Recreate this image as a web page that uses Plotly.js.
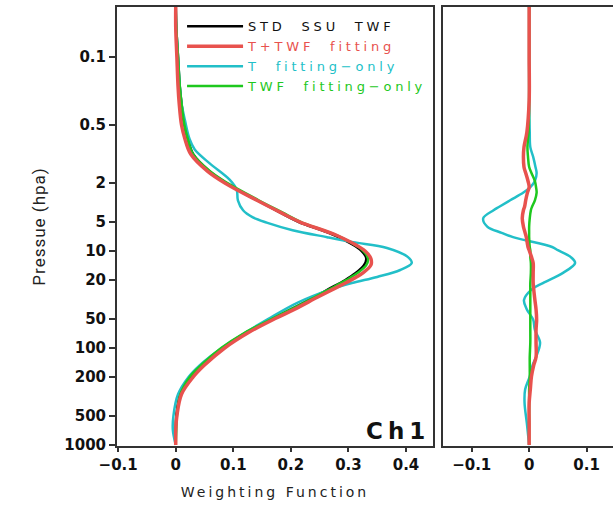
<!DOCTYPE html>
<html>
<head>
<meta charset="utf-8">
<script src="https://cdn.plot.ly/plotly-3.0.1.min.js"></script>
<style>
html,body{margin:0;padding:0;background:#fff;}
#chart{width:613px;height:506px;}
.xtitle{letter-spacing:3px;}
.ytitle{letter-spacing:1px;}
.legendtext{letter-spacing:3.8px;}
.annotation-text{letter-spacing:5px;}
</style>
</head>
<body>
<div id="chart"></div>
<script>
// ---- Left panel: weighting functions ----
var pLeft = [0.03, 0.05, 0.1, 0.2, 0.3, 0.5, 0.7, 1, 1.5, 2, 3, 4, 5, 7, 10, 12, 14, 17, 20, 25, 30, 40, 50, 70, 100, 150, 200, 300, 500, 700, 1000];
var stdTWF   = [0, 0.001, 0.004, 0.007, 0.010, 0.015, 0.021, 0.030, 0.058, 0.088, 0.141, 0.181, 0.213, 0.278, 0.323, 0.331, 0.327, 0.312, 0.294, 0.264, 0.240, 0.200, 0.168, 0.121, 0.081, 0.046, 0.026, 0.008, 0.001, 0, 0];
var tTwfFit  = [0, 0, 0.002, 0.004, 0.006, 0.010, 0.016, 0.026, 0.055, 0.086, 0.141, 0.182, 0.215, 0.282, 0.329, 0.339, 0.339, 0.324, 0.304, 0.272, 0.246, 0.206, 0.172, 0.125, 0.085, 0.050, 0.030, 0.010, 0.002, 0, 0];
var twfOnly  = [0, 0.001, 0.004, 0.007, 0.010, 0.015, 0.021, 0.030, 0.059, 0.090, 0.144, 0.185, 0.217, 0.282, 0.326, 0.334, 0.331, 0.315, 0.296, 0.266, 0.241, 0.200, 0.167, 0.119, 0.079, 0.044, 0.024, 0.008, 0.002, 0.001, 0];
var pCyan = [0.03, 0.05, 0.1, 0.2, 0.3, 0.45, 0.7, 0.9, 1.25, 1.85, 2.35, 3, 3.8, 4.5, 5.1, 6.1, 7.2, 8.1, 9.3, 11.5, 13.3, 15.7, 18.5, 21.4, 25, 34, 50, 70, 100, 150, 200, 300, 500, 700, 1000];
var tOnly    = [0, 0.001, 0.004, 0.007, 0.010, 0.016, 0.024, 0.033, 0.059, 0.094, 0.106, 0.108, 0.117, 0.134, 0.158, 0.203, 0.263, 0.308, 0.367, 0.403, 0.410, 0.390, 0.350, 0.306, 0.268, 0.212, 0.161, 0.120, 0.080, 0.042, 0.022, 0.004, -0.004, -0.005, 0];

// ---- Right panel: differences ----
var pRight = [0.03, 0.1, 0.28, 0.6, 0.85, 1.07, 1.36, 1.57, 1.9, 2.2, 2.5, 3.0, 3.5, 3.8, 4.6, 5.6, 6.5, 7.2, 9.1, 9.8, 11.5, 13.3, 16.8, 21.4, 25, 32, 40, 51, 65, 88, 124, 150, 197, 268, 369, 595, 1000];
var tOnlyDiff  = [0, 0, 0, 0.001, 0.002, 0.007, 0.011, 0.013, 0.010, 0.002, -0.010, -0.033, -0.052, -0.062, -0.080, -0.073, -0.048, -0.028, 0.040, 0.050, 0.072, 0.080, 0.059, 0.024, 0.004, -0.009, -0.004, 0.007, 0.010, 0.019, 0.012, 0.006, 0.001, -0.007, -0.008, -0.004, 0];
var tTwfDiff   = [0, 0, 0, -0.004, -0.009, -0.010, -0.009, -0.006, -0.002, 0.000, -0.003, -0.006, -0.008, -0.010, -0.012, -0.010, -0.007, -0.005, -0.002, 0.000, 0.004, 0.007, 0.007, 0.007, 0.008, 0.010, 0.012, 0.013, 0.012, 0.012, 0.012, 0.008, 0.004, 0.002, 0.000, 0, 0];
var twfOnlyDiff= [0, 0, 0, -0.001, -0.003, -0.002, 0.000, 0.004, 0.010, 0.012, 0.013, 0.010, 0.005, 0.003, 0.001, 0.000, 0.000, 0.000, 0.001, 0.002, 0.002, 0.003, 0.003, 0.002, 0.002, 0.002, 0.002, 0.002, 0.002, 0.002, 0.001, 0.001, 0.001, 0.000, 0.000, 0, 0];

// ---- Labels ----
var seriesNames = ['STD\u00a0 SSU\u00a0 TWF', 'T+TWF\u00a0 fitting', 'T\u00a0 fitting\u2212only', 'TWF\u00a0 fitting\u2212only'];
var pTickVals = [0.1, 0.5, 2, 5, 10, 20, 50, 100, 200, 500, 1000];
var pTickText = ['0.1', '0.5', '2', '5', '10', '20', '50', '100', '200', '500', '1000'];
var xTickVals = [-0.1, 0, 0.1, 0.2, 0.3, 0.4];
var xTickText = ['\u22120.1', '0', '0.1', '0.2', '0.3', '0.4'];
var x2TickVals = [-0.1, 0, 0.1];
var x2TickText = ['\u22120.1', '0', '0.1'];

var cBlack = '#000000', cRed = '#e8524e', cCyan = '#22bfc8', cGreen = '#1ec81e';
function nm(t, c){ return '<span style="color:' + c + '">' + t + '</span>'; }

var traces = [
  {x: stdTWF, y: pLeft, name: nm(seriesNames[0], '#111'), legendrank: 1, line: {color: cBlack, width: 2.5, shape: 'spline'}},
  {x: tOnly, y: pCyan, name: nm(seriesNames[2], cCyan), legendrank: 3, line: {color: cCyan, width: 2.5, shape: 'spline'}},
  {x: twfOnly, y: pLeft, name: nm(seriesNames[3], cGreen), legendrank: 4, line: {color: cGreen, width: 2.5, shape: 'spline'}},
  {x: tTwfFit, y: pLeft, name: nm(seriesNames[1], cRed), legendrank: 2, line: {color: cRed, width: 3.5, shape: 'spline'}},
  {x: tOnlyDiff, y: pRight, xaxis: 'x2', yaxis: 'y2', showlegend: false, line: {color: cCyan, width: 2.5, shape: 'spline'}},
  {x: twfOnlyDiff, y: pRight, xaxis: 'x2', yaxis: 'y2', showlegend: false, line: {color: cGreen, width: 2.5, shape: 'spline'}},
  {x: tTwfDiff, y: pRight, xaxis: 'x2', yaxis: 'y2', showlegend: false, line: {color: cRed, width: 3.5, shape: 'spline'}}
];
traces.forEach(function(t){ t.type = 'scatter'; t.mode = 'lines'; t.hoverinfo = 'skip'; });

var tickFont = {family: 'DejaVu Sans', size: 15, color: '#111', weight: 'bold'};
var axisCommon = {showline: true, mirror: true, linecolor: '#333', linewidth: 2, showgrid: false, zeroline: false, ticks: 'outside', tickcolor: '#333', tickwidth: 2, tickfont: tickFont};

var layout = {
  width: 613, height: 506,
  margin: {l: 0, r: 0, t: 7, b: 60},
  paper_bgcolor: '#fff', plot_bgcolor: '#fff',
  showlegend: true,
  legend: {x: 0.297, y: 0.99, xanchor: 'left', yanchor: 'top', bgcolor: 'rgba(0,0,0,0)', borderwidth: 0,
           font: {family: 'DejaVu Sans', size: 13}, itemwidth: 56, tracegroupgap: 0, traceorder: 'normal'},
  xaxis: Object.assign({}, axisCommon, {domain: [0.1909, 0.7064], range: [-0.102, 0.447], tickvals: xTickVals, ticktext: xTickText, ticklen: 4,
          title: {text: 'Weighting Function', font: {family: 'DejaVu Sans', size: 14, color: '#222'}, standoff: 14}}),
  yaxis: Object.assign({}, axisCommon, {type: 'log', domain: [0, 1], range: [3.01, -1.515], tickvals: pTickVals, ticktext: pTickText, ticklen: 6,
          title: {text: 'Pressue (hpa)', font: {family: 'Roboto', size: 17, color: '#222'}, standoff: 14}}),
  xaxis2: Object.assign({}, axisCommon, {domain: [0.7227, 1.0], anchor: 'y2', range: [-0.15, 0.146], tickvals: x2TickVals, ticktext: x2TickText, ticklen: 4}),
  yaxis2: Object.assign({}, axisCommon, {type: 'log', domain: [0, 1], anchor: 'x2', range: [3.01, -1.515], showticklabels: false, ticks: ''}),
  annotations: [{xref: 'x', yref: 'paper', x: 0.446, y: 0.0, xanchor: 'right', yanchor: 'bottom', text: 'Ch1', showarrow: false,
                 font: {family: 'DejaVu Sans', size: 23, color: '#111', weight: 'bold'}}]
};

Plotly.newPlot('chart', traces, layout, {staticPlot: true, displayModeBar: false});
</script>
</body>
</html>
